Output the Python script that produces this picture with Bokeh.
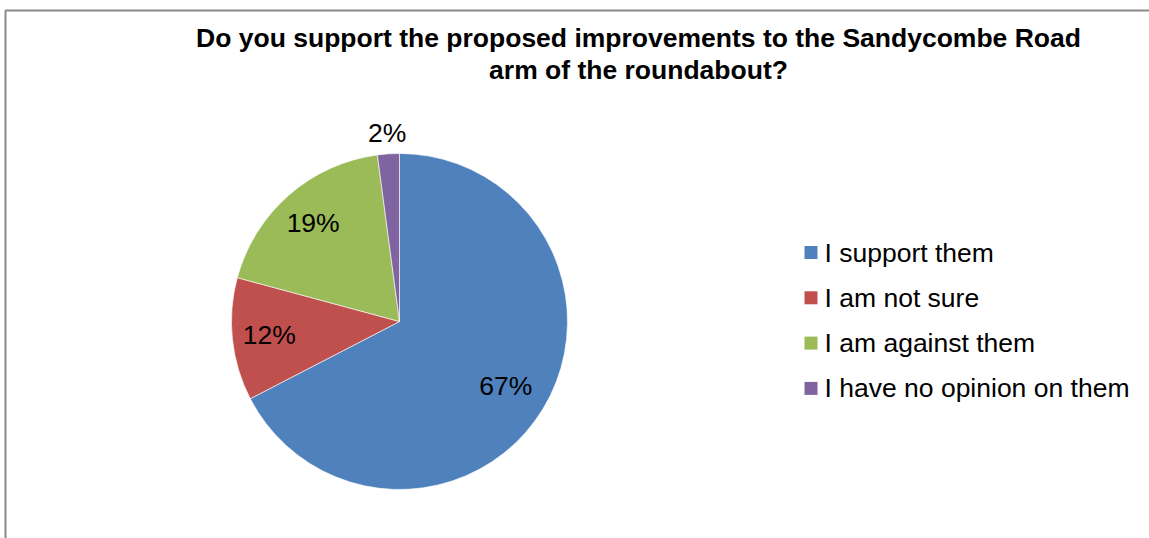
import math
from bokeh.plotting import figure
from bokeh.models import Range1d, ColumnDataSource
from bokeh.core.properties import value
from bokeh.embed import file_html
from bokeh.resources import INLINE

# ---- data ----
categories = ["I support them", "I am not sure", "I am against them", "I have no opinion on them"]
shares = [67.4, 11.8, 18.7, 2.1]
pct_labels = ["67%", "12%", "19%", "2%"]
colors = ["#4F81BD", "#C0504D", "#9BBB59", "#8064A2"]
title_lines = ["Do you support the proposed improvements to the Sandycombe Road",
               "arm of the roundabout?"]

W, H = 1149, 538
FONT = "Liberation Sans"

p = figure(width=W, height=H, output_backend="svg", toolbar_location=None,
           x_range=Range1d(0, W), y_range=Range1d(0, H), min_border=0)
p.axis.visible = False
p.grid.visible = False
p.outline_line_color = None
p.background_fill_color = "white"
p.border_fill_color = "white"

def Y(py):
    return H - py

# chart border (partially visible)
p.line([5, 5, W + 5], [Y(H + 5), Y(10), Y(10)], line_color="#898989", line_width=2)

# title
p.text(x=[638, 638], y=[Y(37), Y(69)], text=title_lines, text_align="center",
       text_baseline="middle", text_font=value(FONT), text_font_style="bold",
       text_font_size="26.5px", text_color="black")

# pie
cx, cy, r = 399, Y(321), 168
total = sum(shares)
starts, ends, mids = [], [], []
a = math.pi / 2
for s in shares:
    sweep = 2 * math.pi * s / total
    starts.append(a)
    ends.append(a - sweep)
    mids.append(a - sweep / 2)
    a -= sweep
src = ColumnDataSource(dict(start=starts, end=ends, color=colors))
p.wedge(x=cx, y=cy, radius=r, start_angle="start", end_angle="end",
        direction="clock", fill_color="color", line_color="white",
        line_width=0.6, source=src)

# percentage labels
label_r = [0.74, 0.78, 0.78, 1.125]
lx = [cx + rr * r * math.cos(m) for rr, m in zip(label_r, mids)]
ly = [cy + rr * r * math.sin(m) for rr, m in zip(label_r, mids)]
p.text(x=lx, y=ly, text=pct_labels, text_align="center", text_baseline="middle",
       text_font=value(FONT), text_font_size="26.5px", text_color="black")

# legend
leg_y = [Y(252 + 45.3 * i) for i in range(len(categories))]
p.rect(x=[810.5] * len(categories), y=leg_y, width=13, height=13,
       fill_color=colors, line_color=None)
p.text(x=[824] * len(categories), y=leg_y, text=categories, text_align="left",
       text_baseline="middle", text_font=value(FONT), text_font_size="26.5px",
       text_color="black")

open("out.html", "w").write(file_html(p, INLINE))
